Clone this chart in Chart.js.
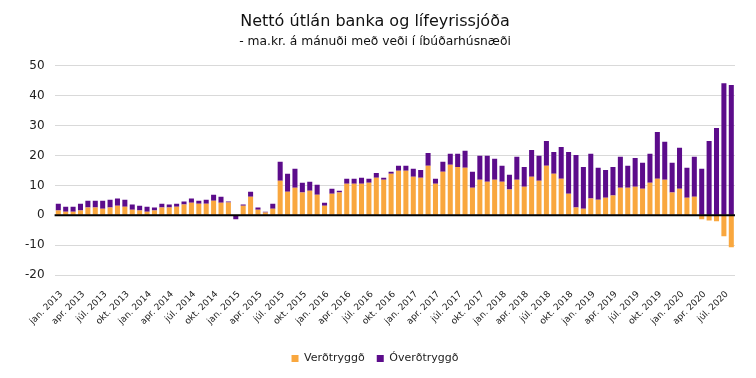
<!DOCTYPE html>
<html>
<head>
<meta charset="utf-8">
<script src="https://cdn.jsdelivr.net/npm/chart.js@4/dist/chart.umd.min.js"></script>
<style>
html,body{margin:0;padding:0;background:#fff;}
#wrap{width:756px;height:378px;position:relative;}
</style>
</head>
<body>
<div id="wrap"><canvas id="c" width="756" height="378"></canvas></div>
<script>
const monthNames = ["jan.","feb.","mar.","apr.","maí","jún.","júl.","ágú.","sep.","okt.","nóv.","des."];
const years = [2013,2014,2015,2016,2017,2018,2019,2020];
const categories = [];
years.forEach(y => monthNames.forEach((m,i) => { if (y < 2020 || i < 8) categories.push(m + " " + y); }));

const verdtryggd = [
 1.6,1.2,1.2,1.6,2.6,2.6,2.2,2.6,3.2,2.9,1.9,1.6,
 1.2,1.6,2.6,2.6,2.9,3.6,4.2,3.9,3.9,4.9,4.2,4.3,
 0.2,3.2,6.2,1.9,0.9,2.2,11.6,7.9,9.2,7.6,8.2,6.9,
 3.2,7.2,7.6,10.6,10.6,10.6,10.9,12.6,11.9,13.9,14.9,14.9,
 12.9,12.6,16.6,10.6,14.6,16.9,16.2,15.9,9.2,11.9,11.2,11.9,
 11.2,8.6,11.9,9.6,12.9,11.6,16.6,13.9,12.2,7.2,2.6,2.2,
 5.6,5.2,5.9,6.6,9.2,9.2,9.6,8.9,10.9,12.2,11.9,7.6,
 8.9,5.9,6.2,-1.3,-1.7,-2.0,-7.0,-10.7
];
const overdtryggd = [
 2.3,1.7,1.7,2.3,2.3,2.3,2.7,2.6,2.4,2.3,1.7,1.6,
 1.7,1.0,1.3,1.0,1.0,1.0,1.4,1.0,1.3,2.0,2.0,0.3,
 -1.3,0.4,1.7,0.7,0.3,1.7,6.3,6.0,6.4,3.3,3.0,3.3,
 1.0,1.7,0.6,1.6,1.6,2.0,1.3,1.6,0.7,0.7,1.7,1.7,
 2.7,2.6,4.3,1.6,3.3,3.7,4.4,5.7,5.4,8.0,8.7,7.0,
 5.4,5.0,7.7,6.6,9.0,8.3,8.3,7.3,10.7,14.0,17.6,14.0,
 15.0,10.7,9.3,9.6,10.4,7.4,9.6,8.7,9.7,15.7,12.7,10.0,
 13.7,10.0,13.4,15.6,24.9,29.2,44.2,43.6
];
const yTicks = [50,40,30,20,10,0,-10,-20];

const ORANGE = '#F9A73E';
const PURPLE = '#5C0C8B';
const FONT = "'DejaVu Sans', sans-serif";

const zeroLine = {
  id: 'zeroLine',
  afterDatasetsDraw(chart) {
    const y = chart.scales.y.getPixelForValue(0);
    const a = chart.chartArea;
    const ctx = chart.ctx;
    ctx.save();
    ctx.strokeStyle = '#000';
    ctx.lineWidth = 2;
    ctx.beginPath();
    ctx.moveTo(a.left, y);
    ctx.lineTo(a.right, y);
    ctx.stroke();
    ctx.restore();
  }
};

new Chart(document.getElementById('c'), {
  type: 'bar',
  data: {
    labels: categories,
    datasets: [
      { label: 'Verðtryggð', data: verdtryggd, backgroundColor: ORANGE, borderWidth: 0 },
      { label: 'Óverðtryggð', data: overdtryggd, backgroundColor: PURPLE, borderWidth: 0 }
    ]
  },
  options: {
    responsive: false,
    animation: false,
    devicePixelRatio: 1,
    layout: { padding: { left: 15, right: 21, top: 4, bottom: 4 } },
    datasets: { bar: { categoryPercentage: 0.8, barPercentage: 0.85 } },
    plugins: {
      title: {
        display: true,
        text: 'Nettó útlán banka og lífeyrissjóða',
        color: '#111',
        font: { family: FONT, size: 16, weight: 'normal' },
        padding: { top: 8, bottom: 3 }
      },
      subtitle: {
        display: true,
        text: '- ma.kr. á mánuði með veði í íbúðarhúsnæði',
        color: '#111',
        font: { family: FONT, size: 12.3 },
        padding: { top: 0, bottom: 17 }
      },
      legend: {
        position: 'bottom',
        labels: {
          boxWidth: 7, boxHeight: 7, padding: 12,
          color: '#222',
          font: { family: FONT, size: 11 }
        }
      },
      tooltip: { enabled: false }
    },
    scales: {
      x: {
        stacked: true,
        grid: { display: false, drawTicks: false },
        border: { display: false },
        ticks: {
          autoSkip: false,
          maxRotation: 45, minRotation: 45,
          color: '#222',
          font: { family: FONT, size: 9 },
          padding: 14,
          labelOffset: 3,
          callback: function(v, i) { return i % 3 === 0 ? categories[i] : ''; }
        }
      },
      y: {
        stacked: true,
        min: -20, max: 50,
        afterBuildTicks(scale) { scale.ticks = yTicks.map(v => ({ value: v })); },
        border: { display: false },
        grid: { color: '#d9d9d9', lineWidth: 1, drawTicks: false },
        ticks: {
          color: '#222',
          font: { family: FONT, size: 12 },
          padding: 10
        }
      }
    }
  },
  plugins: [zeroLine]
});
</script>
</body>
</html>
